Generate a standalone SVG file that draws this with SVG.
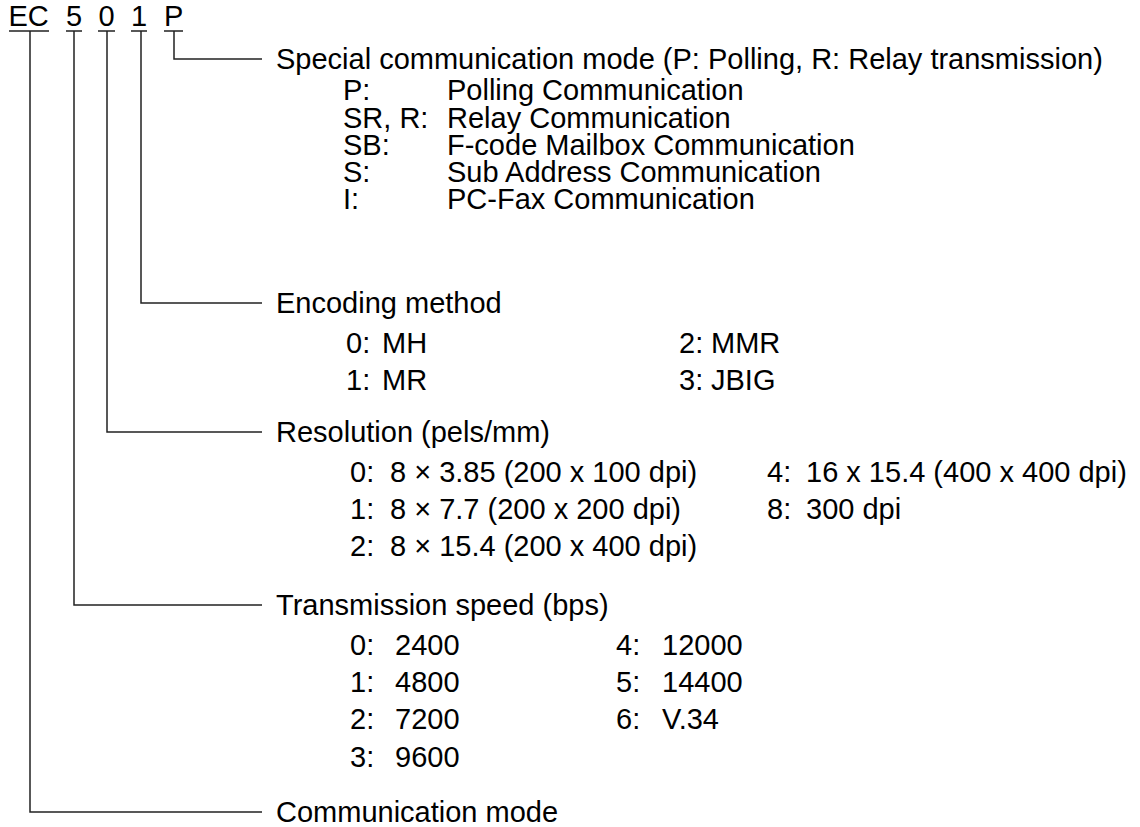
<svg xmlns="http://www.w3.org/2000/svg" width="1140" height="827" viewBox="0 0 1140 827">
<style>
text{font-family:"Liberation Sans",Arial,sans-serif;font-size:29px;fill:#000}
.ln{fill:none;stroke:#222;stroke-width:1.5}
</style>
<rect width="1140" height="827" fill="#fff"/>
<g id="code">
<text x="8.5" y="26">EC</text>
<text x="66" y="26">5</text>
<text x="98.5" y="26">0</text>
<text x="131" y="26">1</text>
<text x="164" y="26">P</text>
<path class="ln" d="M9 31H49M66 31H82M98 31H115M131 31H147M164 31H183"/>
</g>
<g id="connectors">
<path class="ln" d="M174 31V59H262"/>
<path class="ln" d="M141 31V303H262"/>
<path class="ln" d="M107 31V432H262"/>
<path class="ln" d="M74 31V605H262"/>
<path class="ln" d="M30 31V812H262"/>
</g>
<g id="special">
<text x="276" y="69">Special communication mode (P: Polling, R: Relay transmission)</text>
<text x="343" y="100">P:</text><text x="447" y="100">Polling Communication</text>
<text x="343" y="128">SR, R:</text><text x="447" y="128">Relay Communication</text>
<text x="343" y="155">SB:</text><text x="447" y="155">F-code Mailbox Communication</text>
<text x="343" y="182">S:</text><text x="447" y="182">Sub Address Communication</text>
<text x="343" y="209">I:</text><text x="447" y="209">PC-Fax Communication</text>
</g>
<g id="encoding">
<text x="276" y="313">Encoding method</text>
<text x="346" y="353">0:</text><text x="382" y="353">MH</text>
<text x="346" y="390">1:</text><text x="382" y="390">MR</text>
<text x="679" y="353">2:</text><text x="711" y="353">MMR</text>
<text x="679" y="390">3:</text><text x="711" y="390">JBIG</text>
</g>
<g id="resolution">
<text x="276" y="442">Resolution (pels/mm)</text>
<text x="350" y="482">0:</text><text x="390" y="482">8 × 3.85 (200 x 100 dpi)</text>
<text x="350" y="519">1:</text><text x="390" y="519">8 × 7.7 (200 x 200 dpi)</text>
<text x="350" y="556">2:</text><text x="390" y="556">8 × 15.4 (200 x 400 dpi)</text>
<text x="767" y="482">4:</text><text x="806" y="482">16 x 15.4 (400 x 400 dpi)</text>
<text x="767" y="519">8:</text><text x="806" y="519">300 dpi</text>
</g>
<g id="speed">
<text x="276" y="615">Transmission speed (bps)</text>
<text x="350" y="655">0:</text><text x="395" y="655">2400</text>
<text x="350" y="692">1:</text><text x="395" y="692">4800</text>
<text x="350" y="729">2:</text><text x="395" y="729">7200</text>
<text x="350" y="767">3:</text><text x="395" y="767">9600</text>
<text x="616" y="655">4:</text><text x="662" y="655">12000</text>
<text x="616" y="692">5:</text><text x="662" y="692">14400</text>
<text x="616" y="729">6:</text><text x="662" y="729">V.34</text>
</g>
<g id="mode">
<text x="276" y="822">Communication mode</text>
</g>
</svg>
